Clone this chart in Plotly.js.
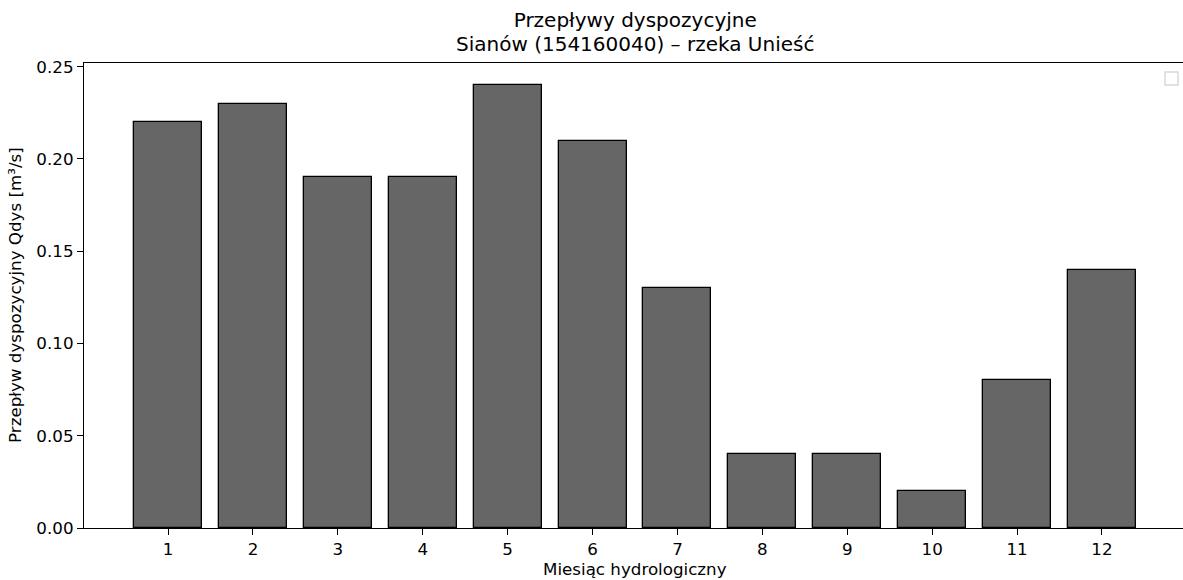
<!DOCTYPE html>
<html>
<head>
<meta charset="utf-8">
<script src="https://cdn.plot.ly/plotly-3.0.1.min.js"></script>
<style>
html, body { margin: 0; padding: 0; overflow: hidden; background: #fff; }
#chart { width: 1190px; height: 580px; }
</style>
</head>
<body>
<div id="chart"></div>
<script>
const months = [1, 2, 3, 4, 5, 6, 7, 8, 9, 10, 11, 12];
const qdys = [0.22, 0.23, 0.19, 0.19, 0.24, 0.21, 0.13, 0.04, 0.04, 0.02, 0.08, 0.14];
const yTicks = [0, 0.05, 0.10, 0.15, 0.20, 0.25];
const titleLine1 = 'Przepływy dyspozycyjne';
const titleLine2 = 'Sianów (154160040) – rzeka Unieść';
const xTitle = 'Miesiąc hydrologiczny';
const yTitle = 'Przepływ dyspozycyjny Qdys [m³/s]';

const font = 'DejaVu Sans, sans-serif';
const L = 84, T = 63, B = 528, W = 1102, H = B - T;
const px = x => (x - L) / W;
const py = y => (B - y) / H;

const trace = {
  type: 'bar',
  x: months,
  y: qdys,
  width: 0.8,
  marker: { color: '#666666', line: { color: '#000000', width: 1.3 } },
  hoverinfo: 'x+y',
  showlegend: false
};

const txt = (text, x, y, size, angle) => ({
  text: text, xref: 'paper', yref: 'paper', x: px(x), y: py(y),
  xanchor: 'center', yanchor: 'middle', showarrow: false,
  textangle: angle || 0,
  font: { family: font, size: size, color: '#000' }
});

const big = s => '<span style="font-size:20px">' + s + '</span>';

const layout = {
  width: 1190,
  height: 580,
  margin: { l: L, r: 1190 - L - W, t: T, b: 580 - B },
  paper_bgcolor: '#ffffff',
  plot_bgcolor: '#ffffff',
  font: { family: font, size: 16.7, color: '#000000' },
  bargap: 0,
  xaxis: {
    range: [0.01, 12.99],
    tickmode: 'array',
    tickvals: months,
    ticktext: months.map(String),
    ticks: 'outside', ticklen: 6, tickwidth: 1.3, tickcolor: '#000',
    showline: true, linecolor: '#000', linewidth: 1.3, mirror: true,
    showgrid: false, zeroline: false,
    tickfont: { family: font, size: 16.7, color: '#000' }
  },
  yaxis: {
    range: [0, 0.252],
    tickmode: 'array',
    tickvals: yTicks,
    ticktext: yTicks.map(v => v.toFixed(2)),
    ticks: 'outside', ticklen: 6, tickwidth: 1.3, tickcolor: '#000',
    showline: true, linecolor: '#000', linewidth: 1.3, mirror: true,
    showgrid: false, zeroline: false,
    tickfont: { family: font, size: 16.7, color: '#000' }
  },
  annotations: [
    txt(big(titleLine1) + '<br>' + big(titleLine2), 635, 32, 18.1),
    txt(xTitle, 635, 569, 16.7),
    txt(yTitle, 15, 295, 16.7, -90)
  ],
  shapes: [{
    type: 'rect', xref: 'paper', yref: 'paper',
    x0: px(1165), x1: px(1178),
    y0: py(85), y1: py(72),
    line: { color: '#d9d9d9', width: 1.5 },
    fillcolor: 'rgba(255,255,255,0.8)'
  }]
};

Plotly.newPlot('chart', [trace], layout, { displayModeBar: false, responsive: false });
</script>
</body>
</html>
